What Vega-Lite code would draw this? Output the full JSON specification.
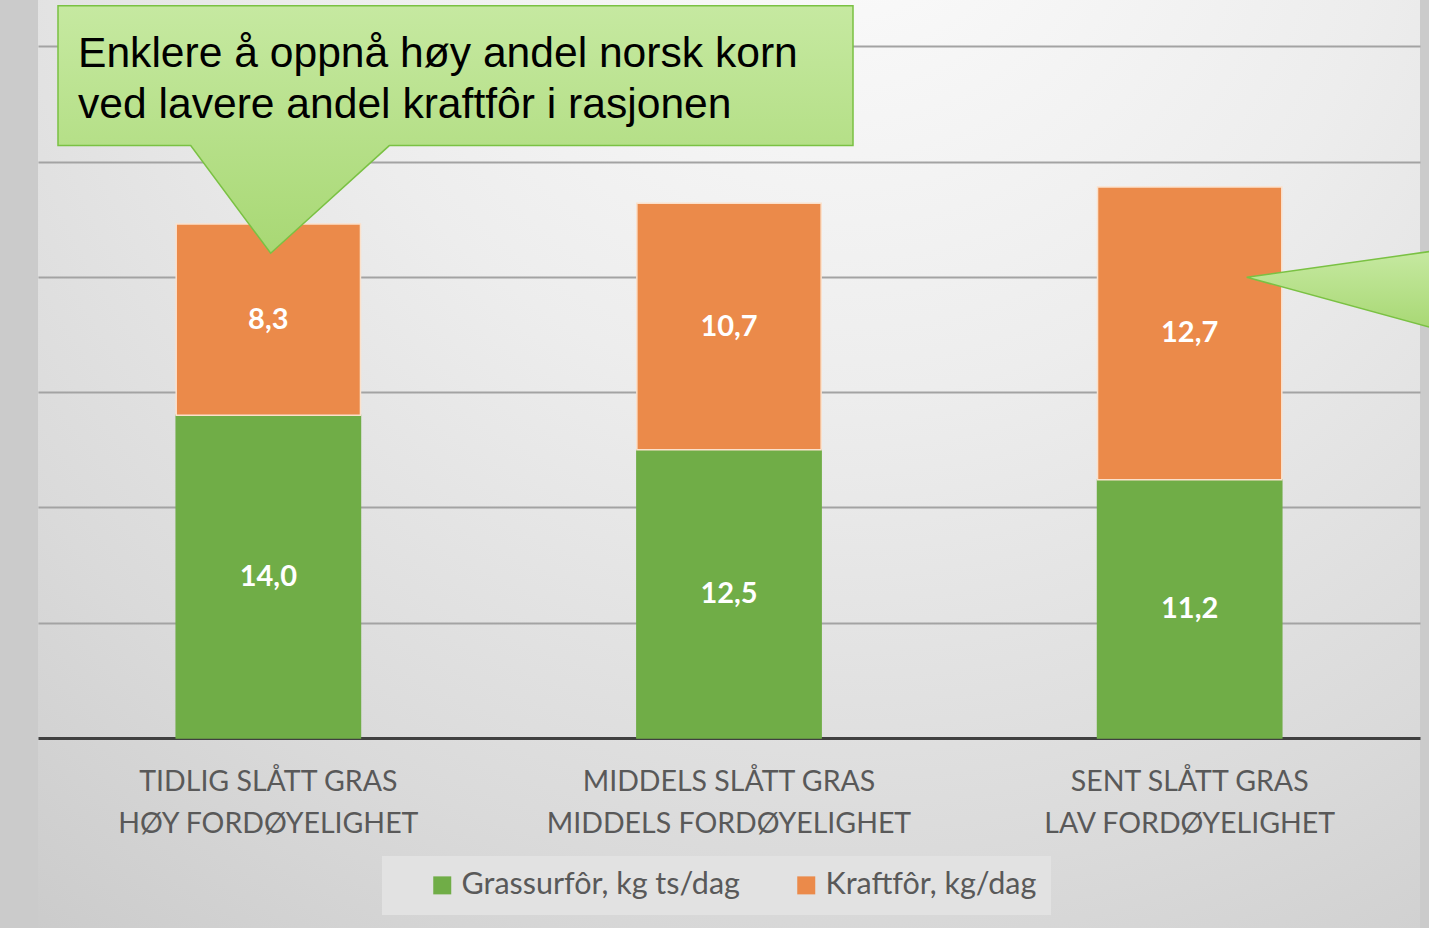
{
  "$schema": "https://vega.github.io/schema/vega-lite/v6.json",
  "width": 1382,
  "height": 928,
  "autosize": {"type": "none"},
  "padding": {"left": 38, "top": 0, "right": 9, "bottom": 0},
  "background": "#cbcbcb",
  "config": {
    "view": {
      "stroke": null,
      "fill": {
        "gradient": "radial",
        "x1": 0.58, "y1": 0.05, "r1": 0,
        "x2": 0.58, "y2": 0.05, "r2": 1.0,
        "stops": [
          {"offset": 0, "color": "#fdfdfd"},
          {"offset": 0.4, "color": "#ededed"},
          {"offset": 0.75, "color": "#dadada"},
          {"offset": 1, "color": "#cacaca"}
        ]
      }
    },
    "locale": {
      "number": {"decimal": ",", "thousands": " ", "grouping": [3], "currency": ["", " kr"]}
    },
    "font": "Lato",
    "axisY": {
      "grid": true, "gridColor": "#a3a3a3", "gridWidth": 2,
      "labels": false, "ticks": false, "domain": false, "title": null
    }
  },
  "datasets": {
    "bars": [
      {"cat": "TIDLIG SLÅTT GRAS|HØY FORDØYELIGHET", "series": "Grassurfôr, kg ts/dag", "value": 14.0, "order": 1},
      {"cat": "TIDLIG SLÅTT GRAS|HØY FORDØYELIGHET", "series": "Kraftfôr, kg/dag", "value": 8.3, "order": 2},
      {"cat": "MIDDELS SLÅTT GRAS|MIDDELS FORDØYELIGHET", "series": "Grassurfôr, kg ts/dag", "value": 12.5, "order": 1},
      {"cat": "MIDDELS SLÅTT GRAS|MIDDELS FORDØYELIGHET", "series": "Kraftfôr, kg/dag", "value": 10.7, "order": 2},
      {"cat": "SENT SLÅTT GRAS|LAV FORDØYELIGHET", "series": "Grassurfôr, kg ts/dag", "value": 11.2, "order": 1},
      {"cat": "SENT SLÅTT GRAS|LAV FORDØYELIGHET", "series": "Kraftfôr, kg/dag", "value": 12.7, "order": 2}
    ],
    "callouts": [
      {"shape": "a", "i": -0.4566, "lo": 25.70, "hi": 31.77},
      {"shape": "a", "i": -0.1685, "lo": 25.70, "hi": 31.77},
      {"shape": "a", "i": 0.0051, "lo": 21.03, "hi": 31.77},
      {"shape": "a", "i": 0.2626, "lo": 25.70, "hi": 31.77},
      {"shape": "a", "i": 1.2692, "lo": 25.70, "hi": 31.77},
      {"shape": "b", "i": 2.1238, "lo": 19.99, "hi": 19.99},
      {"shape": "b", "i": 2.53, "lo": 17.77, "hi": 21.13}
    ],
    "callouttext": [
      {"t": "Enklere å oppnå høy andel norsk korn", "i": -0.4132, "y": 29.11},
      {"t": "ved lavere andel kraftfôr i rasjonen", "i": -0.4132, "y": 26.90}
    ]
  },
  "layer": [
    {
      "data": {"name": "bars"},
      "transform": [
        {"stack": "value", "groupby": ["cat"], "sort": [{"field": "order", "order": "ascending"}], "as": ["v0", "v1"]},
        {"calculate": "(datum.v0 + datum.v1) / 2", "as": "mid"}
      ],
      "encoding": {
        "x": {
          "field": "cat", "type": "nominal", "sort": null,
          "scale": {"paddingInner": 0.6, "paddingOuter": 0.3},
          "axis": {
            "orient": "bottom", "offset": -190, "title": null,
            "domainColor": "#404040", "domainWidth": 3, "ticks": false, "grid": false,
            "labelFont": "Lato", "labelFontSize": 28.5, "labelColor": "#595959",
            "labelPadding": 29, "labelLineHeight": 42, "labelAngle": 0, "labelBaseline": "top",
            "labelLimit": 0, "labelExpr": "split(datum.label, '|')"
          }
        }
      },
      "layer": [
        {
          "mark": {"type": "bar"},
          "encoding": {
            "y": {
              "field": "v0", "type": "quantitative",
              "scale": {"domain": [-8.243, 32.017], "nice": false, "zero": false},
              "axis": {"values": [5, 10, 15, 20, 25, 30]}
            },
            "y2": {"field": "v1"},
            "color": {
              "field": "series", "type": "nominal",
              "scale": {"domain": ["Grassurfôr, kg ts/dag", "Kraftfôr, kg/dag"], "range": ["#70AD47", "#EB8A4A"]},
              "legend": {
                "orient": "none", "legendX": 344, "legendY": 856, "direction": "horizontal",
                "title": null, "fillColor": "#e2e2e2", "padding": 14,
                "symbolType": "square", "symbolSize": 324, "symbolStrokeWidth": 0,
                "labelFont": "Lato", "labelFontSize": 30.5, "labelColor": "#595959", "labelLimit": 0,
                "labelOffset": 4, "columnPadding": 20, "symbolOffset": 31
              }
            },
            "stroke": {
              "condition": {"test": "datum.series === 'Kraftfôr, kg/dag'", "value": "#fbe1cc"},
              "value": "#70AD47"
            },
            "strokeWidth": {"value": 1.5},
            "order": {"field": "order"}
          }
        },
        {
          "mark": {"type": "text", "font": "Lato", "fontWeight": "bold", "fontSize": 29, "color": "white", "baseline": "middle", "align": "center"},
          "encoding": {
            "y": {
              "field": "mid", "type": "quantitative",
              "scale": {"domain": [-8.243, 32.017], "nice": false, "zero": false},
              "axis": {"values": [5, 10, 15, 20, 25, 30]}
            },
            "text": {"field": "value", "type": "quantitative", "format": ".1f"}
          }
        }
      ]
    },
    {
      "data": {"name": "callouts"},
      "mark": {
        "type": "area", "interpolate": "linear", "stroke": "#7ac143", "strokeWidth": 1.5,
        "color": {
          "gradient": "linear", "x1": 0, "y1": 0, "x2": 0, "y2": 1,
          "stops": [{"offset": 0, "color": "#c6e9a1"}, {"offset": 1, "color": "#a8d874"}]
        }
      },
      "encoding": {
        "x": {"field": "i", "type": "quantitative", "scale": {"domain": [-0.5, 2.5], "nice": false, "zero": false}, "axis": null},
        "y": {
          "field": "lo", "type": "quantitative",
          "scale": {"domain": [-8.243, 32.017], "nice": false, "zero": false},
          "axis": {"values": [5, 10, 15, 20, 25, 30]}
        },
        "y2": {"field": "hi"},
        "detail": {"field": "shape"}
      }
    },
    {
      "data": {"name": "callouttext"},
      "mark": {"type": "text", "font": "Liberation Sans", "fontSize": 42.6, "color": "#000000", "align": "left", "baseline": "alphabetic"},
      "encoding": {
        "x": {"field": "i", "type": "quantitative", "scale": {"domain": [-0.5, 2.5], "nice": false, "zero": false}, "axis": null},
        "y": {
          "field": "y", "type": "quantitative",
          "scale": {"domain": [-8.243, 32.017], "nice": false, "zero": false},
          "axis": {"values": [5, 10, 15, 20, 25, 30]}
        },
        "text": {"field": "t"}
      }
    }
  ],
  "resolve": {"scale": {"x": "independent"}}
}
